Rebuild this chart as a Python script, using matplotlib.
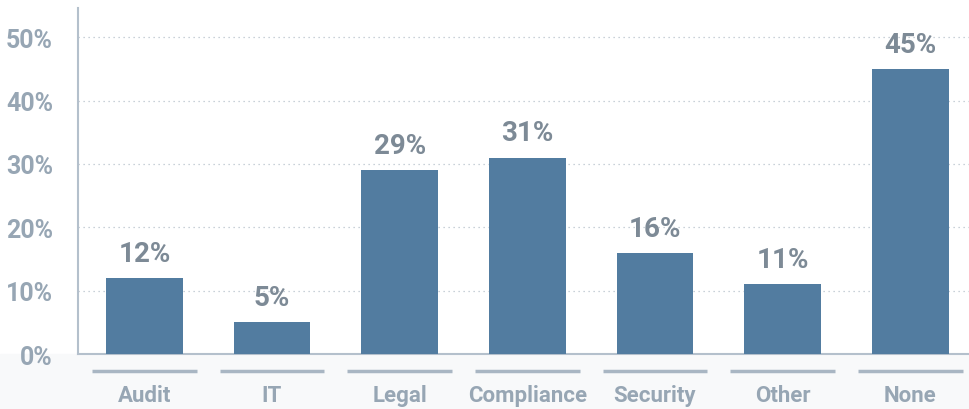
import matplotlib
matplotlib.use("Agg")
import matplotlib.pyplot as plt
from matplotlib.patches import Rectangle

# data
categories = ["Audit", "IT", "Legal", "Compliance", "Security", "Other", "None"]
values = [12, 5, 29, 31, 16, 11, 45]
yticks = [0, 10, 20, 30, 40, 50]
ytick_labels = ["0%", "10%", "20%", "30%", "40%", "50%"]

# colours
bar_col = "#527ca0"
tick_col = "#97a6b4"
value_col = "#7d8a96"
line_col = "#b4c0cc"

plt.rcParams["font.family"] = ["Roboto", "DejaVu Sans"]

fig = plt.figure(figsize=(9.69, 4.10), dpi=100)
# faint band under the axis
fig.patches.append(Rectangle((0, 0), 1, 0.134, transform=fig.transFigure,
                             color="#f8f9fa", zorder=-1))
ax = fig.add_axes([0.0805, 0.134, 0.9195, 0.844])

x = list(range(len(categories)))
ax.bar(x, values, width=0.6, color=bar_col, zorder=3)

for xi, v in zip(x, values):
    ax.annotate(f"{v}%", (xi, v), xytext=(0, 8), textcoords="offset points",
                ha="center", va="bottom", fontsize=20, fontweight="bold",
                color=value_col)

ax.set_xlim(-0.52, 6.46)
ax.set_ylim(0, 54.6)
ax.set_yticks(yticks)
ax.set_yticklabels(ytick_labels, fontsize=18, fontweight="bold", color=tick_col)
ax.tick_params(axis="y", length=0, pad=18)
ax.set_xticks([])

ax.grid(axis="y", linestyle=(0, (1, 3)), color="#b8c2cc", linewidth=0.9, zorder=0)
for s in ["top", "right"]:
    ax.spines[s].set_visible(False)
for s in ["left", "bottom"]:
    ax.spines[s].set_color(line_col)
    ax.spines[s].set_linewidth(1.5)

# category labels with a line above each
xt = ax.get_xaxis_transform()
for xi, name in zip(x, categories):
    ax.plot([xi - 0.41, xi + 0.41], [-0.05, -0.05], transform=xt,
            color="#a9b6c3", linewidth=2.5, clip_on=False, solid_capstyle="butt")
    ax.text(xi, -0.118, name, transform=xt, ha="center", va="center",
            fontsize=16, fontweight="bold", color=tick_col)

fig.savefig("out.png", dpi=100)
